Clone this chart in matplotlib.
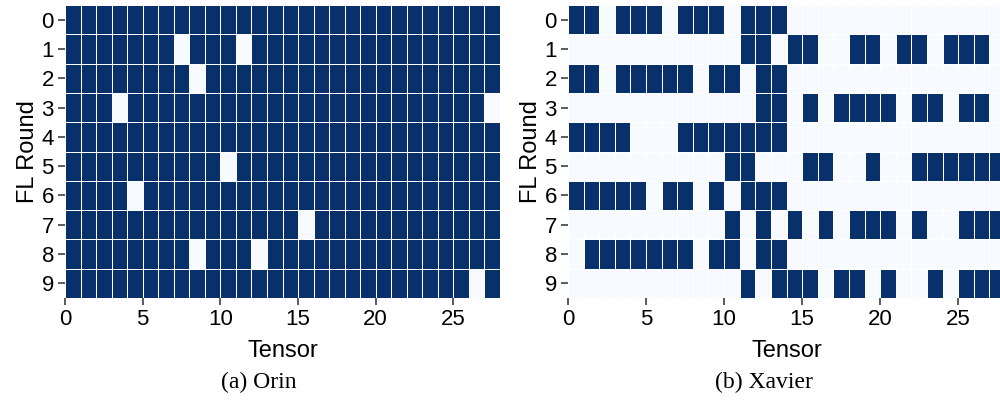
import numpy as np
import matplotlib
matplotlib.use("Agg")
import matplotlib.pyplot as plt

# ------------------------------------------------------------
# data: 1 = tensor selected in that FL round, 0 = not
# ------------------------------------------------------------

rounds = list(range(10))
n_tensors = 28
x_ticks = [0, 5, 10, 15, 20, 25]

orin_rows = [
    "1111111111111111111111111111",
    "1111111011101111111111111111",
    "1111111101111111111111111111",
    "1110111111111111111111111110",
    "1111111111111111111111111111",
    "1111111111011111111111111111",
    "1111011111111111111111111111",
    "1111111111111110111111111111",
    "1111111101110111111111111111",
    "1111111111111111111111111101",
]

xavier_rows = [
    "1101110111011100000000000000",
    "0000000000011011001101101110",
    "1101111101101100000000000000",
    "0000000000001101011110110110",
    "1111000111111100000000000000",
    "0000000000110001100100111111",
    "1111101101011100000000000000",
    "0000000000101010101110100111",
    "0111111101101100000000000000",
    "0000000000010111011010010111",
]

panels = [("(a) Orin", orin_rows), ("(b) Xavier", xavier_rows)]


def to_matrix(rows):
    return np.array([[int(c) for c in r] for r in rows])


fig = plt.figure(figsize=(10, 4), dpi=100)
axes_pos = [[0.065, 0.255, 0.435, 0.7325], [0.568, 0.255, 0.437, 0.7325]]
captions_x = [0.259, 0.764]

for pos, cx, (caption, rows) in zip(axes_pos, captions_x, panels):
    ax = fig.add_axes(pos)
    mat = to_matrix(rows)
    ax.pcolormesh(
        np.arange(n_tensors + 1), np.arange(len(rounds) + 1), mat,
        cmap="Blues", vmin=0, vmax=1,
        edgecolors="white", linewidth=0.7
    )
    ax.set_xlim(0, n_tensors)
    ax.set_ylim(len(rounds), 0)
    ax.set_xticks(x_ticks)
    ax.set_xticklabels([str(t) for t in x_ticks], fontsize=16, family="Liberation Sans")
    ax.set_yticks(np.arange(len(rounds)) + 0.5)
    ax.set_yticklabels([str(r) for r in rounds], fontsize=16, family="Liberation Sans")
    ax.tick_params(length=5, width=1.2, color="0.25", pad=3)
    for sp in ax.spines.values():
        sp.set_visible(False)
    ax.set_xlabel("Tensor", fontsize=17, family="Liberation Sans", labelpad=7)
    ax.set_ylabel("FL Round", fontsize=17, family="Liberation Sans", labelpad=2)
    fig.text(cx, 0.043, caption, ha="center", va="center",
             fontsize=17, family="Liberation Serif")

fig.savefig("out.png", dpi=100)
